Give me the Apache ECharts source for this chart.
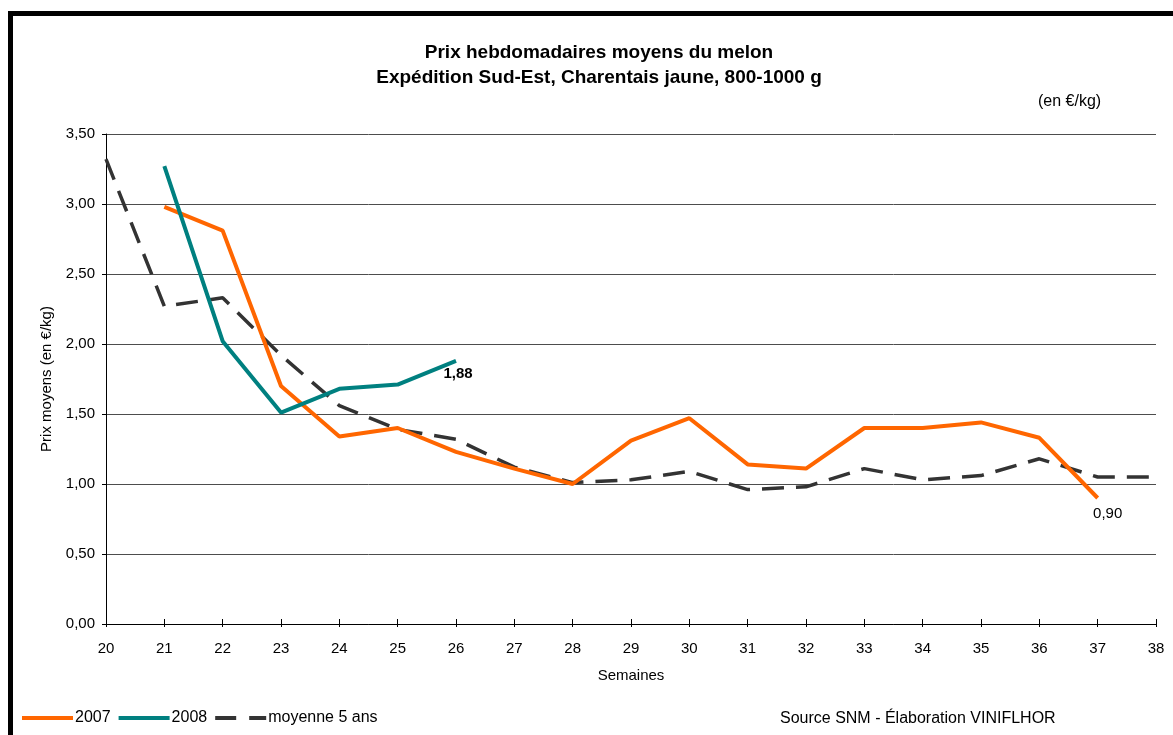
<!DOCTYPE html>
<html>
<head>
<meta charset="utf-8">
<script src="https://cdn.jsdelivr.net/npm/echarts@6/dist/echarts.min.js"></script>
<style>
  html, body { margin: 0; padding: 0; background: #fff; }
  #chart { width: 1173px; height: 735px; }
</style>
</head>
<body>
<div id="chart"></div>
<script>
// Weekly average melon prices (€/kg), weeks 20 to 38
const weeks2007 = [21, 22, 23, 24, 25, 26, 27, 28, 29, 30, 31, 32, 33, 34, 35, 36, 37];
const prices2007 = [2.98, 2.81, 1.70, 1.34, 1.40, 1.23, 1.11, 1.00, 1.31, 1.47, 1.14, 1.11, 1.40, 1.40, 1.44, 1.33, 0.90];

const weeks2008 = [21, 22, 23, 24, 25, 26];
const prices2008 = [3.27, 2.02, 1.51, 1.68, 1.71, 1.88];

const weeksAvg = [20, 21, 22, 23, 24, 25, 26, 27, 28, 29, 30, 31, 32, 33, 34, 35, 36, 37, 38];
const pricesAvg = [3.32, 2.27, 2.33, 1.92, 1.56, 1.39, 1.32, 1.12, 1.01, 1.03, 1.09, 0.96, 0.98, 1.11, 1.03, 1.06, 1.18, 1.05, 1.05];

const seriesNames = ['2007', '2008', 'moyenne 5 ans'];
const FONT = '"Liberation Sans", Arial, sans-serif';

const fr = v => v.toFixed(2).replace('.', ',');
const pairs = (xs, ys) => xs.map((x, i) => [x, ys[i]]);

// Only the last point of a yearly series carries its value label
function withEndLabel(xs, ys, labelStyle) {
  return pairs(xs, ys).map((p, i) => i === xs.length - 1
    ? { value: p, label: Object.assign({ show: true, position: 'bottom', fontSize: 15,
        color: '#000', fontFamily: FONT, formatter: d => fr(d.value[1]) }, labelStyle) }
    : p);
}

const chart = echarts.init(document.getElementById('chart'), null, { renderer: 'canvas' });

const axisFont = { fontFamily: FONT, fontSize: 15, color: '#000' };

chart.setOption({
  animation: false,
  backgroundColor: '#fff',
  textStyle: { fontFamily: FONT, color: '#000' },
  title: {
    text: 'Prix hebdomadaires moyens du melon\nExpédition Sud-Est, Charentais jaune, 800-1000 g',
    left: 599, top: 40, textAlign: 'center', padding: 0,
    textStyle: { fontFamily: FONT, fontSize: 19, fontWeight: 'bold', color: '#000', lineHeight: 25 }
  },
  grid: { left: 106, right: 17, top: 134, bottom: 111, containLabel: false },
  xAxis: [
    {
      type: 'value', min: 20, max: 38, interval: 1,
      name: 'Semaines', nameLocation: 'middle', nameGap: 44,
      nameTextStyle: axisFont,
      axisLine: { lineStyle: { color: '#000', width: 1 } },
      axisTick: { show: true, length: 3, lineStyle: { color: '#000' } },
      axisLabel: Object.assign({ margin: 17 }, axisFont),
      splitLine: { show: false }
    },
    {
      // inner half of the crossing tick marks on the week axis
      type: 'value', min: 20, max: 38, interval: 1, position: 'bottom',
      axisLine: { show: false },
      axisTick: { show: true, inside: true, length: 5, lineStyle: { color: '#000' } },
      axisLabel: { show: false },
      splitLine: { show: false }
    }
  ],
  yAxis: {
    type: 'value', min: 0, max: 3.5, interval: 0.5,
    name: 'Prix moyens (en €/kg)', nameLocation: 'middle', nameGap: 52,
    nameTextStyle: axisFont,
    axisLine: { show: true, lineStyle: { color: '#000', width: 1 } },
    axisTick: { show: true, length: 4, lineStyle: { color: '#000' } },
    axisLabel: Object.assign({ margin: 11, formatter: v => fr(v) }, axisFont),
    splitLine: { show: true, lineStyle: { color: '#4d4d4d', width: 1 } }
  },
  legend: {
    data: [
      { name: seriesNames[0], icon: 'rect' },
      { name: seriesNames[1], icon: 'rect' },
      { name: seriesNames[2], icon: 'path://M0,0h21v4h-21z M34,0h17v4h-17z' }
    ],
    left: 17, top: 705, orient: 'horizontal',
    itemWidth: 51, itemHeight: 4, itemGap: 8,
    textStyle: { fontFamily: FONT, fontSize: 16, color: '#000', padding: [0, 0, 0, -3] }
  },
  series: [
    {
      name: seriesNames[0], type: 'line', xAxisIndex: 0,
      data: withEndLabel(weeks2007, prices2007, { distance: 8, offset: [10, 0] }),
      symbol: 'circle', symbolSize: 0, showSymbol: true, z: 3,
      lineStyle: { color: '#FF6600', width: 4 }, itemStyle: { color: '#FF6600' }
    },
    {
      name: seriesNames[1], type: 'line', xAxisIndex: 0,
      data: withEndLabel(weeks2008, prices2008, { fontWeight: 'bold', distance: 6, offset: [2, 0] }),
      symbol: 'circle', symbolSize: 0, showSymbol: true, z: 4,
      lineStyle: { color: '#008080', width: 4 }, itemStyle: { color: '#008080' }
    },
    {
      name: seriesNames[2], type: 'line', xAxisIndex: 0,
      data: pairs(weeksAvg, pricesAvg),
      symbol: 'none', showSymbol: false, z: 2,
      lineStyle: { color: '#333333', width: 3.5, type: [22, 12] }, itemStyle: { color: '#333333' }
    }
  ],
  graphic: [
    {
      type: 'rect', silent: true, z: 100,
      shape: { x: 10.5, y: 13.5, width: 1300, height: 900 },
      style: { fill: null, stroke: '#000', lineWidth: 5 }
    },
    {
      type: 'text', left: 1038, top: 94,
      style: { text: '(en €/kg)', font: '16px ' + FONT, fill: '#000' }
    },
    {
      type: 'text', left: 780, top: 711,
      style: { text: 'Source SNM - Élaboration VINIFLHOR', font: '16px ' + FONT, fill: '#000' }
    }
  ]
});
</script>
</body>
</html>
